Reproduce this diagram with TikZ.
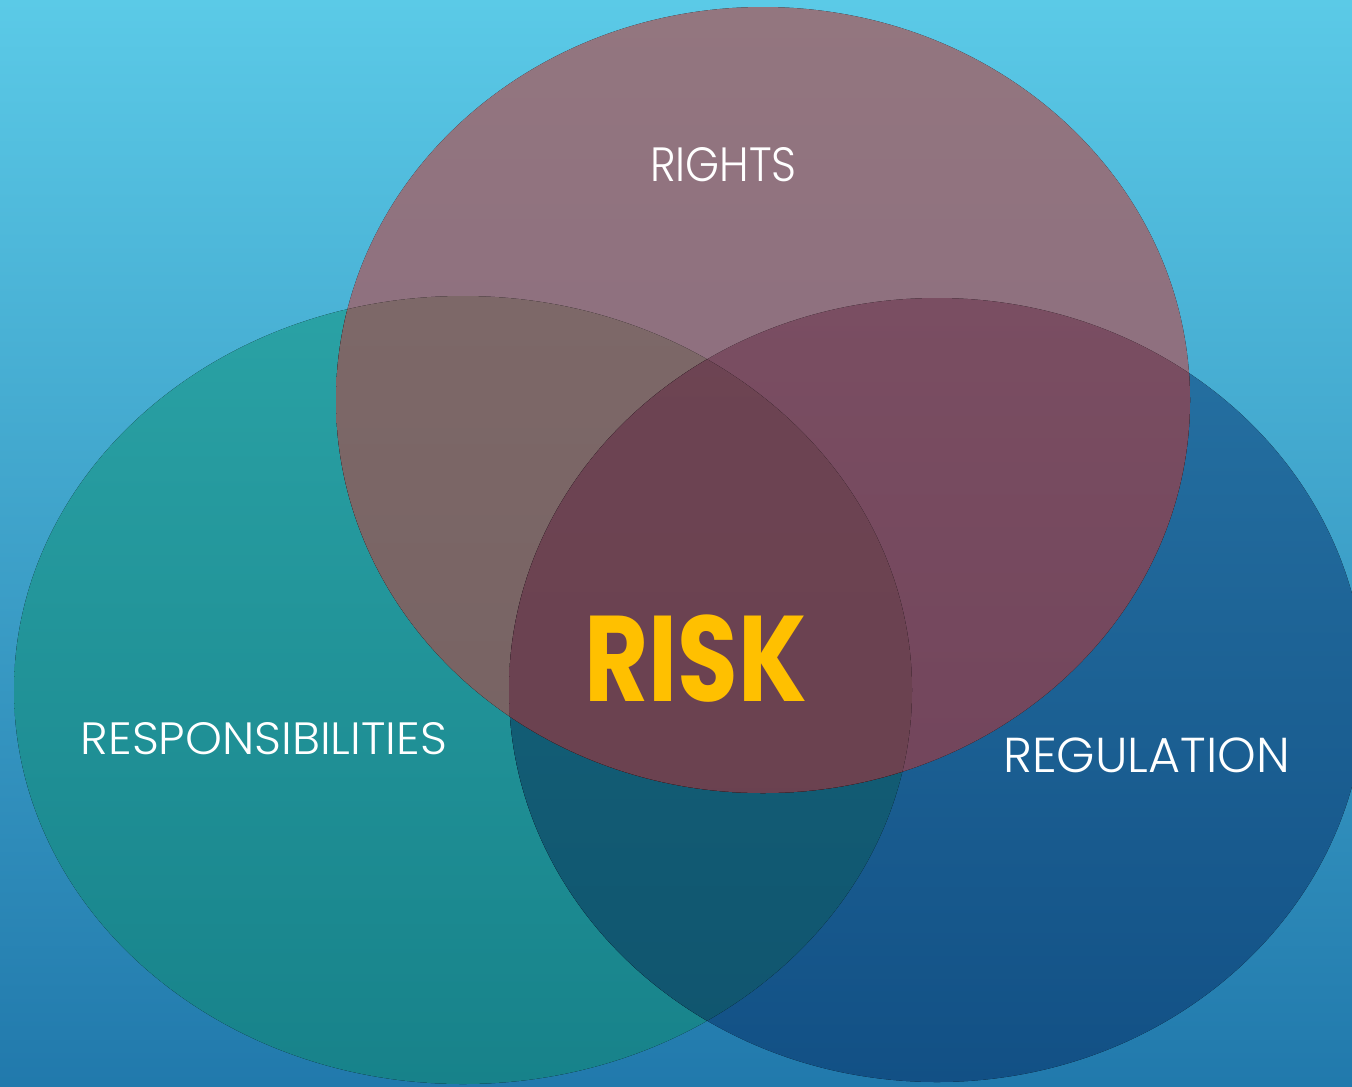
\documentclass[tikz,border=0pt]{standalone}
\usepackage{fontspec}
\setmainfont{Poppins}
\newfontfamily\lightfont{Poppins Light}
\definecolor{bgtop}{HTML}{5BCAE7}
\definecolor{bgbot}{HTML}{2179AC}
\definecolor{Ltop}{HTML}{2AA2A5}
\definecolor{Lbot}{HTML}{17828A}
\definecolor{Rtop}{HTML}{2672A3}
\definecolor{Rbot}{HTML}{125085}
\definecolor{LRtop}{HTML}{15667C}
\definecolor{LRbot}{HTML}{10546E}
\definecolor{Ttop}{HTML}{93767F}
\definecolor{Tbot}{HTML}{89697E}
\definecolor{TLtop}{HTML}{7D6868}
\definecolor{TLbot}{HTML}{746060}
\definecolor{TRtop}{HTML}{7A4E62}
\definecolor{TRbot}{HTML}{6E4058}
\definecolor{TLRtop}{HTML}{6D4453}
\definecolor{TLRbot}{HTML}{69404E}
\definecolor{riskyellow}{HTML}{FFC000}
\begin{document}
\begin{tikzpicture}[x=0.75pt,y=-0.75pt,
  lbl/.style={text=white,inner sep=0pt,font=\lightfont},
  risklbl/.style={text=riskyellow,inner sep=0pt,font=\bfseries}]
\def\Lell{(463,690) ellipse [x radius=336.75pt, y radius=295.5pt]}
\def\Rell{(937,690) ellipse [x radius=321pt, y radius=294pt]}
\def\Tell{(763,400) ellipse [x radius=320.25pt, y radius=294.75pt]}
\useasboundingbox (0,0) rectangle (1352,1086);
\fill[top color=bgtop,bottom color=bgbot] (0,0) rectangle (1352,1086);
% left and right
\fill[top color=Ltop,bottom color=Lbot] \Lell;
\fill[top color=Rtop,bottom color=Rbot] \Rell;
\begin{scope}
  \clip \Lell;
  \fill[top color=LRtop,bottom color=LRbot] \Rell;
\end{scope}
% top
\fill[top color=Ttop,bottom color=Tbot] \Tell;
\begin{scope}
  \clip \Tell;
  \fill[top color=TLtop,bottom color=TLbot] \Lell;
\end{scope}
\begin{scope}
  \clip \Tell;
  \fill[top color=TRtop,bottom color=TRbot] \Rell;
\end{scope}
\begin{scope}
  \clip \Tell;
  \clip \Lell;
  \fill[top color=TLRtop,bottom color=TLRbot] \Rell;
\end{scope}
% labels
\node[lbl] (rights) at (723.5,165) {\resizebox{110pt}{25.5pt}{RIGHTS}};
\node[lbl] (resp) at (264,739) {\resizebox{274.5pt}{24pt}{RESPONSIBILITIES}};
\node[lbl] (reg) at (1146.5,755.5) {\resizebox{215pt}{26pt}{REGULATION}};
\node[risklbl] (risk) at (695.5,658.5) {\resizebox{167pt}{65pt}{RISK}};
\end{tikzpicture}
\end{document}
